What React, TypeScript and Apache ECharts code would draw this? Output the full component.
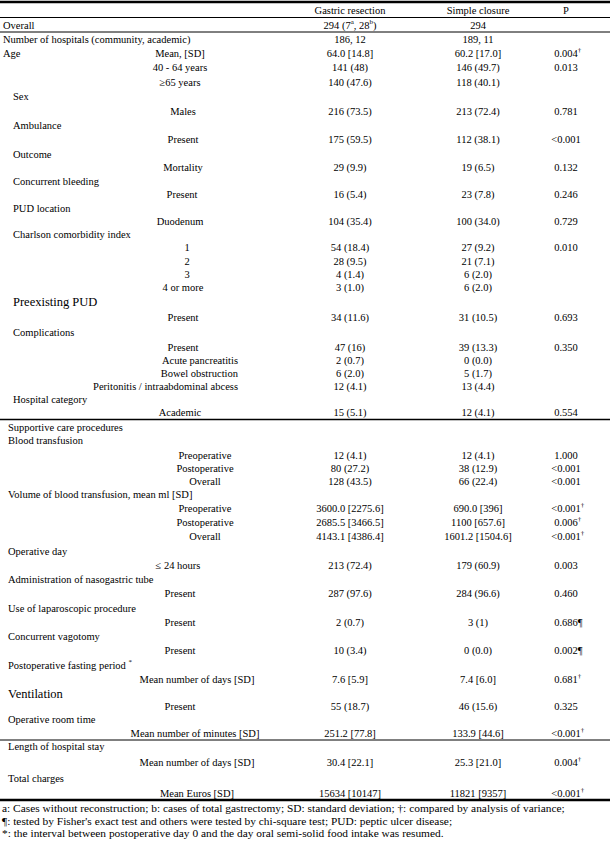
import React, { useEffect, useRef } from "react";
import * as echarts from "echarts";

// ---------- DATA ----------
const headers = ["Gastric resection", "Simple closure", "P"];

const mainLabels = [
  "Overall", "Number of hospitals (community, academic)", "Age", "", "",
  "Sex", "", "Ambulance", "", "Outcome", "", "Concurrent bleeding", "", "PUD location", "",
  "Charlson comorbidity index", "", "", "", "",
  "Preexisting PUD", "", "Complications", "", "", "", "", "Hospital category", "",
  "Supportive care procedures", "Blood transfusion", "", "", "",
  "Volume of blood transfusion, mean ml [SD]", "", "", "",
  "Operative day", "", "Administration of nasogastric tube", "", "Use of laparoscopic procedure", "",
  "Concurrent vagotomy", "", "Postoperative fasting period ^*", "", "Ventilation", "",
  "Operative room time", "", "Length of hospital stay", "", "Total charges", "",
];

const subLabels = [
  "", "", "Mean, [SD]", "40 - 64 years", "≥65 years",
  "", "Males", "", "Present", "", "Mortality", "", "Present", "", "Duodenum",
  "", "1", "2", "3", "4 or more",
  "", "Present", "", "Present", "Acute pancreatitis", "Bowel obstruction", "Peritonitis / intraabdominal abcess", "", "Academic",
  "", "", "Preoperative", "Postoperative", "Overall",
  "", "Preoperative", "Postoperative", "Overall",
  "", "≤ 24 hours", "", "Present", "", "Present",
  "", "Present", "", "Mean number of days [SD]", "", "Present",
  "", "Mean number of minutes [SD]", "", "Mean number of days [SD]", "", "Mean Euros [SD]",
];

const gastric = [
  "294 (7^a, 28^b)", "186, 12", "64.0 [14.8]", "141 (48)", "140 (47.6)",
  "", "216 (73.5)", "", "175 (59.5)", "", "29 (9.9)", "", "16 (5.4)", "", "104 (35.4)",
  "", "54 (18.4)", "28 (9.5)", "4 (1.4)", "3 (1.0)",
  "", "34 (11.6)", "", "47 (16)", "2 (0.7)", "6 (2.0)", "12 (4.1)", "", "15 (5.1)",
  "", "", "12 (4.1)", "80 (27.2)", "128 (43.5)",
  "", "3600.0 [2275.6]", "2685.5 [3466.5]", "4143.1 [4386.4]",
  "", "213 (72.4)", "", "287 (97.6)", "", "2 (0.7)",
  "", "10 (3.4)", "", "7.6 [5.9]", "", "55 (18.7)",
  "", "251.2 [77.8]", "", "30.4 [22.1]", "", "15634 [10147]",
];

const simple = [
  "294", "189, 11", "60.2 [17.0]", "146 (49.7)", "118 (40.1)",
  "", "213 (72.4)", "", "112 (38.1)", "", "19 (6.5)", "", "23 (7.8)", "", "100 (34.0)",
  "", "27 (9.2)", "21 (7.1)", "6 (2.0)", "6 (2.0)",
  "", "31 (10.5)", "", "39 (13.3)", "0 (0.0)", "5 (1.7)", "13 (4.4)", "", "12 (4.1)",
  "", "", "12 (4.1)", "38 (12.9)", "66 (22.4)",
  "", "690.0 [396]", "1100 [657.6]", "1601.2 [1504.6]",
  "", "179 (60.9)", "", "284 (96.6)", "", "3 (1)",
  "", "0 (0.0)", "", "7.4 [6.0]", "", "46 (15.6)",
  "", "133.9 [44.6]", "", "25.3 [21.0]", "", "11821 [9357]",
];

const pValues = [
  "", "", "0.004^†", "0.013", "",
  "", "0.781", "", "<0.001", "", "0.132", "", "0.246", "", "0.729",
  "", "0.010", "", "", "",
  "", "0.693", "", "0.350", "", "", "", "", "0.554",
  "", "", "1.000", "<0.001", "<0.001",
  "", "<0.001^†", "0.006^†", "<0.001^†",
  "", "0.003", "", "0.460", "", "0.686¶",
  "", "0.002¶", "", "0.681^†", "", "0.325",
  "", "<0.001^†", "", "0.004^†", "", "<0.001^†",
];

const footnotes = [
  "a: Cases without reconstruction; b: cases of total gastrectomy; SD: standard deviation; †: compared by analysis of variance;",
  "¶: tested by Fisher's exact test and others were tested by chi-square test; PUD: peptic ulcer disease;",
  "*: the interval between postoperative day 0 and the day oral semi-solid food intake was resumed.",
];

// ---------- LAYOUT ----------
const rowY = [
  25, 39, 53, 67.5, 82,
  96.5, 111, 125, 139, 154, 167.5, 181, 194.5, 208, 221,
  234.5, 247.5, 261, 274, 287,
  302, 317, 332, 347, 360, 373, 386, 399, 412,
  427, 440, 455, 468, 481,
  494, 508, 522, 536,
  551, 565, 579, 593.5, 608, 622,
  636, 650, 665, 679, 694, 706,
  719, 733, 746, 762, 778.5, 793,
];
const mainX = (i: number) => (i < 5 ? 3 : i < 29 ? 13 : 8);
const bigMain = [20, 48];
const subX = [
  0, 0, 180, 180, 180,
  0, 183, 0, 183, 0, 183, 0, 182, 0, 180,
  0, 187, 187, 187, 183,
  0, 183, 0, 183, 238, 238, 238, 0, 180,
  0, 0, 205, 205, 205,
  0, 205, 205, 205,
  0, 178, 0, 180, 0, 180,
  0, 180, 0, 197, 0, 180,
  0, 195, 0, 197, 0, 197,
];
const rightAligned = [24, 25, 26];
const colX = [350, 478, 566];
const headerY = 10;
const footY = [808, 820.5, 833];
const hLines = [
  { y: 2, w: 2.5 },
  { y: 17.5, w: 1 },
  { y: 32, w: 1 },
  { y: 419.5, w: 1.5 },
  { y: 740, w: 1 },
  { y: 800, w: 2.5 },
];

const FONT = "Liberation Serif, serif";
const FS = 10.5;
const BIG = 12.5;
const FOOT = 11.4;
const SUP = 7;

let ctx: CanvasRenderingContext2D | null = null;
function measure(t: string, size: number) {
  if (!ctx) ctx = document.createElement("canvas").getContext("2d");
  ctx!.font = `${size}px ${FONT}`;
  return ctx!.measureText(t).width;
}

type Seg = { t: string; sup: boolean };
function parse(s: string): Seg[] {
  const segs: Seg[] = [];
  let buf = "";
  for (let i = 0; i < s.length; i++) {
    if (s[i] === "^" && i + 1 < s.length) {
      if (buf) segs.push({ t: buf, sup: false });
      buf = "";
      segs.push({ t: s[i + 1], sup: true });
      i++;
    } else buf += s[i];
  }
  if (buf) segs.push({ t: buf, sup: false });
  return segs;
}

function cell(s: string, x: number, y: number, align: "left" | "center" | "right" | "base", size = FS): any[] {
  if (!s) return [];
  const segs = parse(s);
  const widths = segs.map((g) => measure(g.t, g.sup ? SUP : size));
  const total = widths.reduce((a, b) => a + b, 0);
  let start = x;
  if (align === "center") start = x - total / 2;
  else if (align === "right") start = x - total;
  else if (align === "base") {
    const m = s.match(/^[<0-9.]+/);
    const base = m ? m[0] : s;
    start = x - measure(base, size) / 2;
  }
  const out: any[] = [];
  let cx = start;
  segs.forEach((g, k) => {
    out.push({
      type: "text",
      x: cx,
      y: g.sup ? y - 3.5 : y,
      silent: true,
      style: {
        text: g.t,
        fontSize: g.sup ? SUP : size,
        fontFamily: FONT,
        fill: "#000",
        textAlign: "left",
        textVerticalAlign: "middle",
      },
    });
    cx += widths[k];
  });
  return out;
}

export default function App() {
  const ref = useRef<HTMLDivElement>(null);
  useEffect(() => {
    document.body.style.margin = "0";
    const chart = echarts.init(ref.current!, undefined, { renderer: "svg" });
    const els: any[] = [];
    hLines.forEach((l) =>
      els.push({
        type: "line",
        silent: true,
        shape: { x1: 0, y1: l.y, x2: 610, y2: l.y },
        style: { stroke: "#000", lineWidth: l.w },
      })
    );
    headers.forEach((h, j) => els.push(...cell(h, colX[j], headerY, "center")));
    rowY.forEach((y, i) => {
      const big = bigMain.includes(i);
      els.push(...cell(mainLabels[i], mainX(i), y, "left", big ? BIG : FS));
      els.push(...cell(subLabels[i], subX[i], y, rightAligned.includes(i) ? "right" : "center"));
      els.push(...cell(gastric[i], colX[0], y, "center"));
      els.push(...cell(simple[i], colX[1], y, "center"));
      els.push(...cell(pValues[i], colX[2], y, "base"));
    });
    footnotes.forEach((f, k) => els.push(...cell(f, 2, footY[k], "left", FOOT)));
    chart.setOption({
      animation: false,
      backgroundColor: "#fff",
      graphic: { elements: els },
    });
    return () => chart.dispose();
  }, []);
  return (
    <div
      ref={ref}
      style={{ position: "absolute", left: 0, top: 0, width: 612, height: 847, background: "#fff" }}
    />
  );
}
